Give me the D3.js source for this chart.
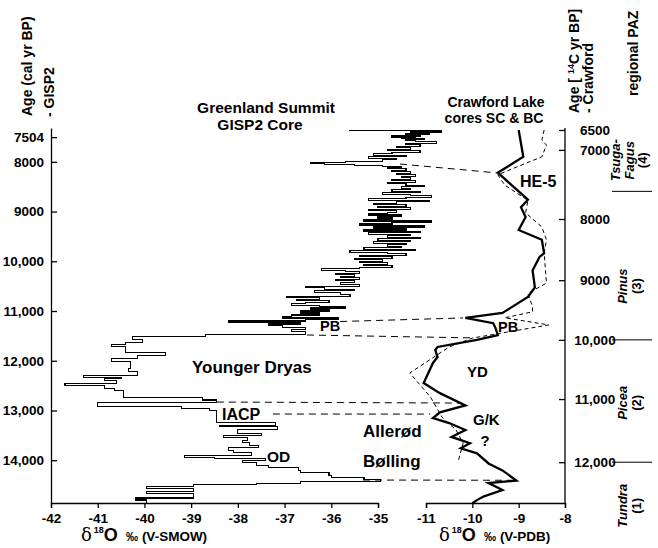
<!DOCTYPE html>
<html>
<head>
<meta charset="utf-8">
<script src="https://cdn.jsdelivr.net/npm/d3@7"></script>
<style>
  body { margin: 0; background: #fff; }
  text { font-family: "Liberation Sans", Arial, Helvetica, sans-serif; font-weight: bold; fill: #000; }
</style>
</head>
<body>
<script>
// GISP2 d18O (per mil V-SMOW) against calendar age (cal yr BP)
const gispAge = [7360, 7375, 7400, 7420, 7440, 7460, 7480, 7500, 7520, 7540, 7560, 7580, 7600, 7630, 7660, 7690, 7720, 7750, 7780, 7810,
  7840, 7870, 7900, 7930, 7960, 7990, 8010, 8030, 8050, 8070, 8090, 8110, 8140, 8170, 8200, 8230, 8260, 8290, 8320, 8350,
  8380, 8410, 8440, 8470, 8500, 8530, 8560, 8590, 8620, 8650, 8680, 8710, 8740, 8770, 8800, 8830, 8860, 8890, 8920, 8950,
  8980, 9010, 9040, 9070, 9100, 9130, 9160, 9190, 9220, 9250, 9280, 9310, 9340, 9370, 9400, 9430, 9460, 9490, 9520, 9550,
  9580, 9610, 9640, 9670, 9700, 9730, 9760, 9790, 9820, 9850, 9880, 9910, 9940, 9970, 10000, 10030, 10060, 10090, 10120, 10150,
  10180, 10210, 10240, 10270, 10300, 10330, 10360, 10390, 10420, 10460, 10500, 10530, 10560, 10590, 10620, 10660, 10700, 10730, 10760, 10790,
  10820, 10850, 10880, 10910, 10940, 10970, 11000, 11040, 11080, 11110, 11140, 11170, 11200, 11220, 11260, 11300, 11340, 11380, 11420, 11480,
  11520, 11580, 11640, 11670, 11720, 11840, 11890, 11960, 12020, 12160, 12220, 12300, 12340, 12360, 12400, 12460, 12500, 12560, 12600, 12660,
  12740, 12790, 12840, 12920, 12960, 13000, 13240, 13300, 13330, 13390, 13460, 13500, 13540, 13600, 13640, 13700, 13740, 13800, 13840, 13900,
  13940, 13970, 14000, 14040, 14100, 14140, 14200, 14240, 14300, 14340, 14380, 14420, 14460, 14490, 14520, 14570, 14620, 14670, 14760, 14800];
const gispD18O = [-35.6, -33.65, -34.3, -33.9, -34.4, -34.1, -34.7, -34.2, -34.5, -34.0, -34.4, -34.2, -33.75, -34.4, -34.1, -34.6, -34.3, -34.8, -34.1, -34.7,
  -35.1, -34.4, -35.2, -34.6, -34.9, -35.7, -36.45, -36.15, -35.5, -34.9, -34.5, -34.8, -34.4, -34.7, -34.3, -34.6, -34.2, -34.5, -34.3, -34.7,
  -34.2, -34.8, -34.4, -34.0, -34.5, -34.3, -34.7, -34.1, -34.9, -34.3, -33.85, -34.4, -35.2, -33.9, -34.6, -35.1, -34.4, -35.0, -34.3, -35.2,
  -34.6, -34.8, -35.2, -34.5, -35.0, -34.7, -35.3, -33.85, -34.7, -35.4, -34.0, -35.1, -34.4, -35.3, -34.1, -35.2, -34.3, -34.8, -34.1, -35.0,
  -34.3, -35.1, -34.4, -34.8, -34.5, -35.3, -34.2, -35.6, -34.8, -34.4, -35.4, -34.7, -35.5, -34.9, -35.4, -34.8, -35.3, -34.7, -35.4, -36.2,
  -35.7, -35.4, -35.9, -35.5, -35.8, -35.4, -35.9, -35.5, -35.8, -35.4, -36.55, -36.15, -35.5, -36.35, -35.8, -35.6, -36.95, -36.25, -36.75, -36.05,
  -36.55, -36.85, -36.25, -35.7, -36.45, -36.05, -36.65, -36.25, -36.85, -37.05, -35.85, -36.55, -38.2, -36.65, -37.35, -37.05, -36.55, -36.85, -36.55, -38.7,
  -40.25, -40.05, -40.4, -40.7, -40.4, -39.55, -40.15, -40.7, -40.3, -40.35, -40.15, -41.3, -40.5, -40.85, -40.6, -41.7, -40.85, -40.65, -40.45, -40.45,
  -38.75, -38.45, -41.0, -39.2, -38.6, -38.45, -37.2, -38.4, -37.15, -38.0, -37.5, -38.3, -37.8, -37.9, -37.75, -37.55, -38.2, -38.1, -37.7, -39.15,
  -38.5, -37.4, -37.9, -37.6, -37.35, -36.7, -36.65, -36.05, -36.0, -35.3, -34.95, -36.65, -37.6, -38.95, -39.95, -38.95, -39.95, -38.95, -40.2, -39.95];

// Crawford Lake d18O (per mil V-PDB) against radiocarbon age (14C yr BP)
const scAge = [6500, 7100, 7330, 7480, 7720, 7830, 7970, 8180, 8340, 8560, 8620, 8840, 9120, 9280, 9550, 9630, 9720, 9800, 9920, 10000,
  10120, 10170, 10290, 10390, 10730, 10900, 11100, 11210, 11300, 11380, 11490, 11600, 11700, 11780, 11860, 12020, 12130, 12290, 12330, 12440,
  12540, 12600, 12650];
const scD18O = [-9.0, -8.9, -9.45, -9.2, -8.8, -8.95, -8.85, -9.0, -8.5, -8.45, -8.55, -8.7, -8.65, -8.8, -9.35, -10.15, -9.55, -9.5, -9.45, -9.9,
  -10.75, -10.8, -10.75, -10.85, -11.05, -10.7, -10.15, -10.7, -10.85, -10.5, -10.15, -10.45, -10.05, -10.25, -9.9, -9.65, -9.35, -9.05, -9.65, -9.35,
  -9.75, -9.9, -10.0];
const bcAge = [6500, 6750, 6880, 7100, 7250, 7360, 7510, 7730, 7910, 8130, 8340, 8560, 9050, 9220, 9450, 9530, 9630, 9750, 9970, 10120,
  10560, 10970, 11290, 11490, 11700, 11970];
const bcD18O = [-8.45, -8.5, -8.4, -8.5, -9.05, -9.45, -9.3, -8.8, -8.85, -8.5, -8.4, -8.45, -8.4, -8.8, -8.7, -8.7, -9.3, -8.35, -10.0, -10.5,
  -11.35, -10.9, -10.65, -10.35, -10.2, -10.3];

// correlation tie lines: GISP2 (cal age, d18O) -> Crawford (14C age, d18O)
const tieGispAge = [8044, 11211, 11482, 12830, 13071, 14398];
const tieGispD18O = [-34.53, -35.81, -36.52, -38.45, -37.25, -35.32];
const tieCrawAge = [7333, 9633, 9967, 11063, 11238, 12286];
const tieCrawD18O = [-9.47, -10.2, -9.98, -10.27, -10.91, -9.03];

// axes
const calTicks = [7504, 8000, 9000, 10000, 11000, 12000, 13000, 14000];
const c14Ticks = [6500, 7000, 8000, 9000, 10000, 11000, 12000];
const c14TickCal = [7360, 7760, 9150, 10380, 11580, 12770, 14040];
const gispTicks = [-42, -41, -40, -39, -38, -37, -36, -35];
const crawTicks = [-11, -10, -9, -8];

// regional pollen assemblage zones
const pazBounds = [7600, 10000, 12000];
const pazNames = [["Tsuga-", "Fagus", "(4)"], ["Pinus", "(3)"], ["Picea", "(2)"], ["Tundra", "(1)"]];
const pazMid = [7150, 9100, 11060, 12690];

const W = 658, H = 548;
const svg = d3.select('body').append('svg').attr('width', W).attr('height', H);

const y = d3.scaleLinear().domain([7320, 14860]).range([128, 503]);
const xG = d3.scaleLinear().domain([-42, -35]).range([51, 378]);
const xC = d3.scaleLinear().domain([-11, -8]).range([426, 565]);
const c14ToCal = d3.scaleLinear().domain(c14Ticks).range(c14TickCal);
const yC = a => y(c14ToCal(a));
const yR = d3.scaleLinear().domain(c14Ticks).range(c14TickCal.map(y));

const fmt = d => (d >= 10000 ? d3.format(',')(d) : String(d));
const fmtX = d => String(d);

function styleAxis(g) {
  g.selectAll('text').attr('font-family', null).attr('font-size', 13.5).style('font-weight', 'bold');
  g.selectAll('line, path').attr('stroke', '#000').attr('stroke-width', 1.3);
}

// left axis
svg.append('g').attr('transform', 'translate(51,0)')
  .call(d3.axisLeft(y).tickValues(calTicks).tickFormat(fmt).tickSizeInner(-6).tickSizeOuter(0).tickPadding(7))
  .call(styleAxis);

// right axis
const xr = xC(-8);
svg.append('g').attr('transform', `translate(${xr},0)`)
  .call(d3.axisRight(yR).tickValues(c14Ticks).tickFormat(fmt).tickSizeInner(-6).tickSizeOuter(0))
  .call(g => g.select('.domain').remove())
  .call(g => g.selectAll('text').attr('x', 30).attr('text-anchor', 'middle'))
  .call(styleAxis);
svg.append('line').attr('x1', xr).attr('x2', xr).attr('y1', y(7320)).attr('y2', y(14860))
  .attr('stroke', '#000').attr('stroke-width', 1.3);

// bottom axes
svg.append('g').attr('transform', 'translate(0,503)')
  .call(d3.axisBottom(xG).tickValues(gispTicks).tickFormat(fmtX).tickSizeOuter(0).tickSize(5).tickPadding(5))
  .call(styleAxis);
svg.append('g').attr('transform', 'translate(0,503)')
  .call(d3.axisBottom(xC).tickValues(crawTicks).tickFormat(fmtX).tickSizeOuter(0).tickSize(5).tickPadding(5))
  .call(styleAxis);

// GISP2 step trace
const gEnd = y.domain()[1];
const gPts = [];
gispAge.forEach((a, i) => {
  const next = i < gispAge.length - 1 ? gispAge[i + 1] : gEnd;
  gPts.push([xG(gispD18O[i]), y(a)], [xG(gispD18O[i]), y(next)]);
});
svg.append('path').attr('d', d3.line()(gPts))
  .attr('fill', 'none').attr('stroke', '#000').attr('stroke-width', 1.1)
  .attr('shape-rendering', 'crispEdges');

// Crawford traces
const line = d3.line().x(d => xC(d[1])).y(d => yC(d[0]));
svg.append('path').attr('d', line(bcAge.map((a, i) => [a, bcD18O[i]])))
  .attr('fill', 'none').attr('stroke', '#000').attr('stroke-width', 1).attr('stroke-dasharray', '4,3');
svg.append('path').attr('d', line(scAge.map((a, i) => [a, scD18O[i]])))
  .attr('fill', 'none').attr('stroke', '#000').attr('stroke-width', 2.3).attr('stroke-linejoin', 'miter');

// tie lines
svg.append('g').selectAll('line').data(tieGispAge).join('line')
  .attr('x1', (d, i) => xG(tieGispD18O[i])).attr('y1', d => y(d))
  .attr('x2', (d, i) => xC(tieCrawD18O[i])).attr('y2', (d, i) => yC(tieCrawAge[i]))
  .attr('stroke', '#000').attr('stroke-width', 1).attr('stroke-dasharray', '7,5');

// PAZ zones
const pazX0 = 612, pazX1 = 652;
svg.append('g').selectAll('line').data(pazBounds).join('line')
  .attr('x1', pazX0).attr('x2', pazX1).attr('y1', d => yC(d)).attr('y2', d => yC(d))
  .attr('stroke', '#000').attr('stroke-width', 1);
pazNames.forEach((lines, i) => {
  const cy = yC(pazMid[i]);
  const x0 = lines.length === 3 ? 620 : 627;
  lines.forEach((t, j) => {
    svg.append('text')
      .attr('transform', `translate(${x0 + j * 13.5},${cy}) rotate(-90)`)
      .attr('text-anchor', 'middle').attr('font-size', 13)
      .style('font-style', t.startsWith('(') ? 'normal' : 'italic')
      .text(t);
  });
});

// annotations
function label(t, x, yy, size, anchor) {
  return svg.append('text').attr('x', x).attr('y', yy).attr('font-size', size)
    .attr('text-anchor', anchor || 'start').text(t);
}
label('Greenland Summit', 266, 113, 15.5, 'middle');
label('GISP2 Core', 260, 130, 15.5, 'middle');
label('Crawford Lake', 496, 106.5, 14, 'middle');
label('cores SC & BC', 494, 122.5, 14, 'middle');
label('PB', 320, 331, 14.5);
label('PB', 498, 332, 14.5);
label('Younger Dryas', 192, 373, 17);
label('IACP', 222, 420, 16);
label('OD', 267, 462, 15.5);
label('YD', 467, 377, 15);
label('G/K', 473, 425, 15);
label('?', 485, 446, 15, 'middle');
label('Allerød', 363, 437, 17);
label('Bølling', 363, 467, 17);
label('HE-5', 520, 187, 16);

// vertical titles
function vtitle(x, yy, size, anchor) {
  return svg.append('text').attr('transform', `translate(${x},${yy}) rotate(-90)`)
    .attr('font-size', size).attr('text-anchor', anchor || 'start');
}
vtitle(32, 116, 14).text('Age (cal yr BP)');
vtitle(54, 117, 14).text('- GISP2');
const r1 = vtitle(579, 113, 14);
r1.append('tspan').text('Age [ ');
r1.append('tspan').attr('font-size', 9).attr('dy', -5).text('14');
r1.append('tspan').attr('dy', 5).text('C yr BP]');
vtitle(593, 113, 14).text('- Crawford');
vtitle(638, 96, 14).text('regional PAZ');

// x titles
function xtitle(x0, unit) {
  const t = svg.append('text').attr('x', x0).attr('y', 541);
  t.append('tspan').style('font-family', '"DejaVu Serif", "Liberation Serif", serif').style('font-weight', 'normal')
    .attr('font-size', 18).text('δ');
  t.append('tspan').attr('font-size', 9).attr('dy', -8).attr('dx', 2).text('18');
  t.append('tspan').attr('font-size', 18).attr('dy', 8).text('O');
  t.append('tspan').attr('font-size', 12).attr('dx', 8).text('‰');
  t.append('tspan').attr('font-size', 13.5).attr('dx', 4).text(unit);
}
xtitle(81, '(V-SMOW)');
xtitle(439, '(V-PDB)');
</script>
</body>
</html>
